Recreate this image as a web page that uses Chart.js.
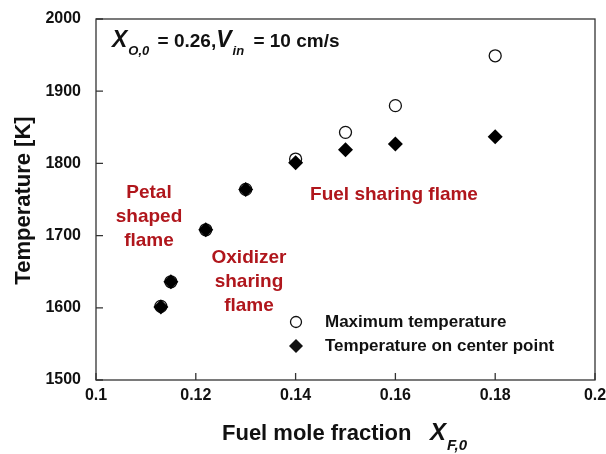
<!DOCTYPE html>
<html>
<head>
<meta charset="utf-8">
<script src="https://cdn.jsdelivr.net/npm/chart.js@4.4.1/dist/chart.umd.min.js"></script>
<style>
  html, body { margin: 0; padding: 0; background: #fff; }
</style>
</head>
<body>
<canvas id="grafico" width="606" height="454"></canvas>
<script>
// --- dados ---
const fuelFraction = [0.113, 0.115, 0.122, 0.13, 0.14, 0.15, 0.16, 0.18];
const maxTemp = [1602, 1636, 1708, 1764, 1806, 1843, 1880, 1949];
const centerTemp = [1601, 1636, 1708, 1764, 1801, 1819, 1827, 1837];
const xTicks = [0.1, 0.12, 0.14, 0.16, 0.18, 0.2];
const yTicks = [1500, 1600, 1700, 1800, 1900, 2000];
const seriesNames = ['Maximum temperature', 'Temperature on center point'];

const FONT = '"Liberation Sans", Arial, sans-serif';
const RED = '#b0161c';
const AXIS = '#333';

function pts(xs, ys) {
  return xs.map((x, i) => ({ x: x, y: ys[i] }));
}

// desenha caixa, ticks internos, textos e legenda
const extras = {
  id: 'extras',
  afterDraw(chart) {
    const c = chart.ctx;
    const a = chart.chartArea;
    const sx = chart.scales.x, sy = chart.scales.y;
    c.save();
    c.strokeStyle = AXIS;
    c.lineWidth = 1.3;
    c.strokeRect(a.left, a.top, a.right - a.left, a.bottom - a.top);
    c.beginPath();
    xTicks.forEach(v => {
      const px = sx.getPixelForValue(v);
      c.moveTo(px, a.bottom); c.lineTo(px, a.bottom - 7);
    });
    yTicks.forEach(v => {
      const py = sy.getPixelForValue(v);
      c.moveTo(a.left, py); c.lineTo(a.left + 7, py);
    });
    c.stroke();

    // título eixo y
    c.fillStyle = '#111';
    c.font = 'bold 22px ' + FONT;
    c.textAlign = 'center';
    c.textBaseline = 'middle';
    c.save();
    c.translate(24, (a.top + a.bottom) / 2 + 1);
    c.rotate(-Math.PI / 2);
    c.fillText('Temperature [K]', 0, 0);
    c.restore();

    // título eixo x com subscrito
    c.textAlign = 'left';
    c.textBaseline = 'alphabetic';
    c.font = 'bold 22px ' + FONT;
    let x0 = 222;
    c.fillText('Fuel mole fraction', x0, 440);
    x0 = 430;
    c.font = 'bold italic 24px ' + FONT;
    c.fillText('X', x0, 440);
    x0 += c.measureText('X').width;
    c.font = 'bold italic 15px ' + FONT;
    c.fillText('F,0', x0 + 1, 450);

    // condição no topo
    let tx = 112;
    const ty = 47;
    c.font = 'bold italic 23px ' + FONT;
    c.fillText('X', tx, ty);
    tx += c.measureText('X').width;
    c.font = 'bold italic 13px ' + FONT;
    c.fillText('O,0', tx + 1, ty + 8);
    tx += c.measureText('O,0').width + 4;
    c.font = 'bold 19px ' + FONT;
    c.fillText(' = 0.26,', tx, ty);
    tx += c.measureText(' = 0.26,').width;
    c.font = 'bold italic 23px ' + FONT;
    c.fillText('V', tx, ty);
    tx += c.measureText('V').width;
    c.font = 'bold italic 13px ' + FONT;
    c.fillText('in', tx + 1, ty + 8);
    tx += c.measureText('in').width + 5;
    c.font = 'bold 19px ' + FONT;
    c.fillText(' = 10 cm/s', tx, ty);

    // rótulos vermelhos
    c.fillStyle = RED;
    c.font = 'bold 19px ' + FONT;
    c.textAlign = 'center';
    c.textBaseline = 'middle';
    ['Petal', 'shaped', 'flame'].forEach((s, i) => c.fillText(s, 149, 193 + i * 24));
    ['Oxidizer', 'sharing', 'flame'].forEach((s, i) => c.fillText(s, 249, 258 + i * 24));
    c.fillText('Fuel sharing flame', 394, 195);

    // legenda
    c.font = 'bold 17px ' + FONT;
    c.textAlign = 'left';
    c.lineWidth = 1.3;
    c.strokeStyle = '#111';
    c.beginPath();
    c.arc(296, 322, 5.5, 0, Math.PI * 2);
    c.fillStyle = '#fff';
    c.fill();
    c.stroke();
    c.fillStyle = '#111';
    c.beginPath();
    c.moveTo(296, 339); c.lineTo(303, 346); c.lineTo(296, 353); c.lineTo(289, 346);
    c.closePath();
    c.fill();
    c.fillText(seriesNames[0], 325, 322);
    c.fillText(seriesNames[1], 325, 346);
    c.restore();
  }
};

const ctx = document.getElementById('grafico').getContext('2d');

new Chart(ctx, {
  type: 'scatter',
  data: {
    datasets: [
      {
        label: seriesNames[0],
        data: pts(fuelFraction, maxTemp),
        pointStyle: 'circle',
        pointRadius: 6,
        pointBorderWidth: 1.3,
        pointBackgroundColor: '#fff',
        pointBorderColor: '#111',
        order: 1
      },
      {
        label: seriesNames[1],
        data: pts(fuelFraction, centerTemp),
        pointStyle: 'rectRot',
        pointRadius: 7.5,
        pointBorderWidth: 0,
        pointBackgroundColor: '#000',
        pointBorderColor: '#000',
        order: 0
      }
    ]
  },
  options: {
    responsive: false,
    animation: false,
    devicePixelRatio: 1,
    layout: { padding: { top: 19, right: 11, left: 0, bottom: 0 } },
    plugins: { legend: { display: false }, tooltip: { enabled: false } },
    scales: {
      x: {
        type: 'linear',
        min: 0.1, max: 0.2,
        afterBuildTicks: s => { s.ticks = xTicks.map(v => ({ value: v })); },
        afterFit: s => { s.height = 74; s.paddingLeft = 0; s.paddingRight = 0; },
        ticks: {
          color: '#111',
          font: { family: FONT, size: 16, weight: 'bold' },
          padding: 6,
          maxRotation: 0,
          autoSkip: false,
          callback: v => v === 0.1 ? '0.1' : v === 0.2 ? '0.2' : v.toFixed(2)
        },
        grid: { display: false, drawTicks: false },
        border: { display: false }
      },
      y: {
        min: 1500, max: 2000,
        afterBuildTicks: s => { s.ticks = yTicks.map(v => ({ value: v })); },
        afterFit: s => { s.width = 96; s.paddingTop = 0; s.paddingBottom = 0; },
        ticks: {
          color: '#111',
          font: { family: FONT, size: 16, weight: 'bold' },
          padding: 15,
          autoSkip: false,
          callback: v => String(v)
        },
        grid: { display: false, drawTicks: false },
        border: { display: false }
      }
    }
  },
  plugins: [extras]
});
</script>
</body>
</html>
